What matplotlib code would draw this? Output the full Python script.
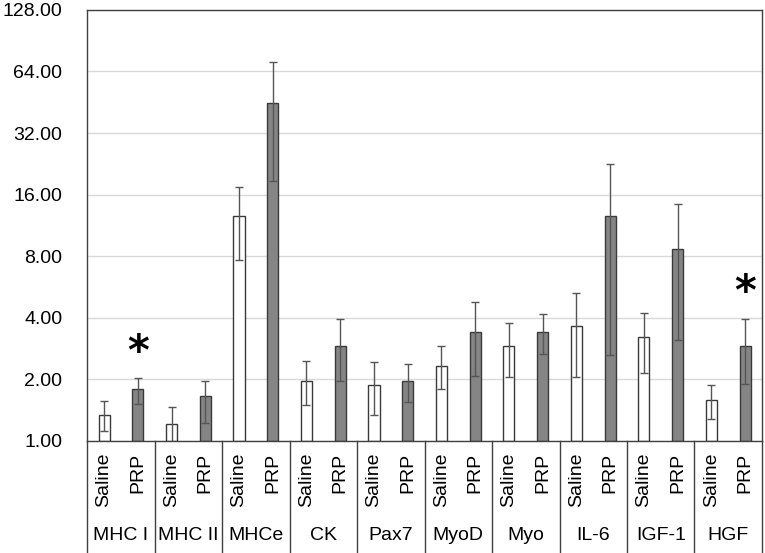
import matplotlib.pyplot as plt
import numpy as np
from matplotlib.ticker import FixedLocator, FuncFormatter

plt.rcParams['font.family'] = ['Liberation Sans', 'DejaVu Sans']

groups = ['MHC I', 'MHC II', 'MHCe', 'CK', 'Pax7', 'MyoD', 'Myo', 'IL-6', 'IGF-1', 'HGF']
treatments = ['Saline', 'PRP']

saline = [1.33, 1.21, 12.6, 1.97, 1.88, 2.33, 2.92, 3.66, 3.20, 1.58]
saline_hi = [1.56, 1.46, 17.5, 2.45, 2.42, 2.90, 3.77, 5.31, 4.22, 1.88]
saline_lo = [1.11, 0.95, 7.65, 1.49, 1.34, 1.79, 2.05, 2.04, 2.15, 1.28]

prp = [1.79, 1.66, 45.0, 2.92, 1.95, 3.42, 3.42, 12.6, 8.66, 2.92]
prp_hi = [2.03, 1.97, 71.0, 3.92, 2.38, 4.77, 4.19, 22.6, 14.4, 3.95]
prp_lo = [1.52, 1.22, 18.6, 1.95, 1.55, 2.07, 2.67, 2.63, 3.10, 1.89]

significant = ['MHC I', 'HGF']

yticks = [1, 2, 4, 8, 16, 32, 64, 128]

fig = plt.figure(figsize=(7.65, 5.53), dpi=100)
ax = fig.add_axes([0.114, 0.203, 0.882, 0.779])

n = len(groups)
xs = np.arange(n) * 2 + 0.5
xp = xs + 1
width = 0.33
edge = '#3a3a3a'

s = np.array(saline)
p = np.array(prp)
ax.bar(xs, s - 1, bottom=1, width=width, color='white', edgecolor=edge, linewidth=1, zorder=2)
ax.bar(xp, p - 1, bottom=1, width=width, color='#858585', edgecolor=edge, linewidth=1, zorder=2)

ax.errorbar(xs, s, yerr=[s - np.array(saline_lo), np.array(saline_hi) - s], fmt='none',
            ecolor='#555555', elinewidth=1, capsize=3, capthick=1, zorder=3)
ax.errorbar(xp, p, yerr=[p - np.array(prp_lo), np.array(prp_hi) - p], fmt='none',
            ecolor='#555555', elinewidth=1, capsize=3, capthick=1, zorder=3)

for g in significant:
    i = groups.index(g)
    ax.text(xp[i], prp_hi[i] * 1.33, '*', ha='center', va='center', fontsize=30,
            fontweight='bold', color='black', family='DejaVu Sans')

ax.set_yscale('log', base=2)
ax.set_ylim(1, 128)
ax.set_xlim(0, 2 * n)
ax.yaxis.set_major_locator(FixedLocator(yticks))
ax.yaxis.set_minor_locator(FixedLocator([]))
ax.yaxis.set_major_formatter(FuncFormatter(lambda v, pos: '%.2f' % v))
ax.tick_params(axis='y', length=0, pad=18, labelsize=14)
ax.set_xticks([])
ax.grid(axis='y', color='#d9d9d9', linewidth=1, zorder=0)
ax.set_axisbelow(True)
for sp in ax.spines.values():
    sp.set_color('#404040')
    sp.set_linewidth(1)

# category table below the axis
trans = ax.get_xaxis_transform()
for k in range(n + 1):
    ax.plot([2 * k, 2 * k], [0, -0.26], transform=trans, color='#404040',
            linewidth=1, clip_on=False)
for i in range(n):
    ax.text(xs[i], -0.028, treatments[0], transform=trans, rotation=90,
            ha='center', va='top', fontsize=14)
    ax.text(xp[i], -0.028, treatments[1], transform=trans, rotation=90,
            ha='center', va='top', fontsize=14)
    ax.text(2 * i + 1, -0.22, groups[i], transform=trans, ha='center',
            va='center', fontsize=14)

fig.savefig('out.png', dpi=100)
